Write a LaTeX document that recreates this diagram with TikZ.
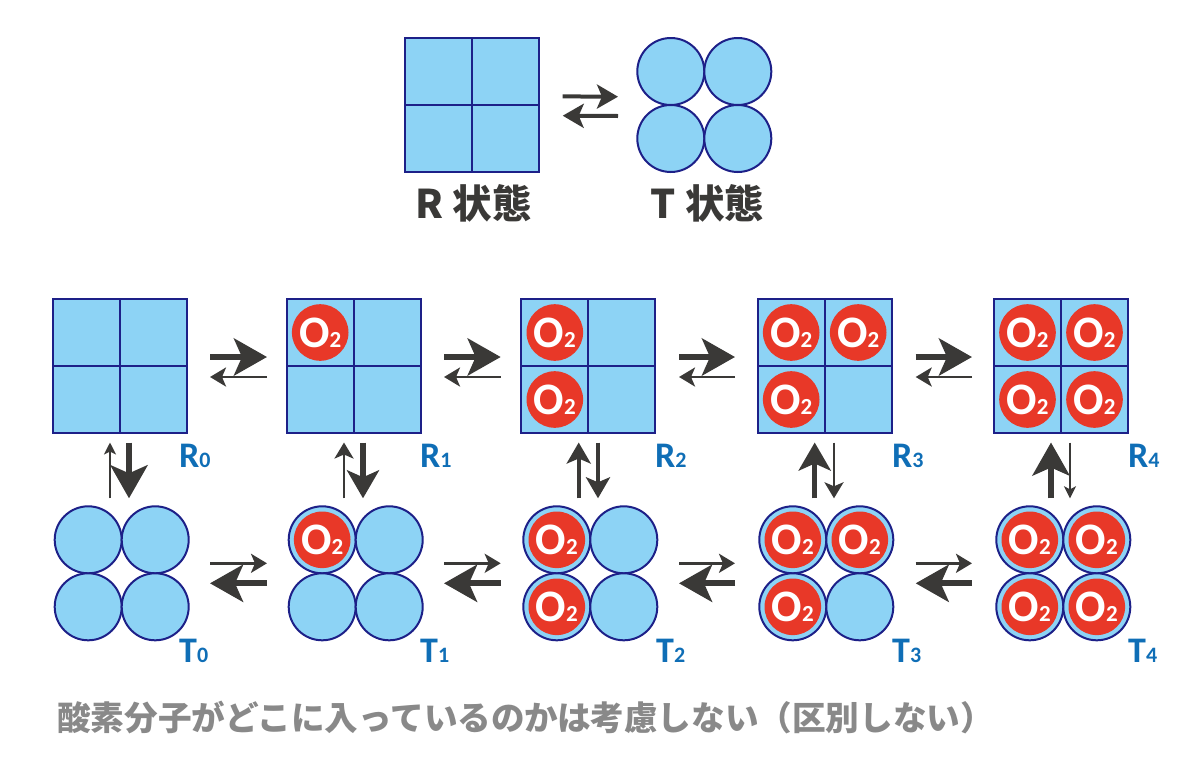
\documentclass[tikz,border=0pt]{standalone}
\usepackage{fontspec}
\setmainfont{Carlito}
\newfontfamily\cjk{Noto Sans CJK JP}
\usetikzlibrary{positioning, arrows.meta}

\definecolor{cellblue}{HTML}{8DD3F5}
\definecolor{edgenavy}{HTML}{1D2088}
\definecolor{oxyred}{HTML}{E83828}
\definecolor{arrowgray}{HTML}{3A3937}
\definecolor{labelblue}{HTML}{0F6EB6}
\definecolor{notegray}{HTML}{898989}

\newcommand{\otwo}{O{\fontsize{23}{23}\selectfont 2}}
\newcommand{\statename}[2]{#1{\fontsize{22}{22}\selectfont #2}}

\tikzset{
    rbox/.style={draw=edgenavy, fill=cellblue, line width=2pt, minimum size=134pt, inner sep=0pt, outer sep=0pt,
        path picture={
            \draw [edgenavy, line width=2pt] (path picture bounding box.north) -- (path picture bounding box.south);
            \draw [edgenavy, line width=2pt] (path picture bounding box.west) -- (path picture bounding box.east);
        }},
    tbox/.style={minimum size=134pt, inner sep=0pt, outer sep=0pt},
    lobe/.style={draw=edgenavy, fill=cellblue, line width=2pt, circle, minimum size=67pt, inner sep=0pt, outer sep=0pt},
    oxy/.style={fill=oxyred, circle, minimum size=56.6pt, inner sep=0pt, text=white, font=\fontsize{45}{45}\selectfont\bfseries},
    statelabel/.style={anchor=base west, inner sep=0pt, text=labelblue, font=\fontsize{36}{36}\selectfont\bfseries},
    hair/.style={arrowgray, line width=2pt, -{Stealth[length=12pt, width=12pt, inset=3pt]}},
    slim/.style={arrowgray, line width=2.8pt, -{Stealth[length=16pt, width=19pt, inset=4pt]}},
    mid/.style={arrowgray, line width=4pt, -{Stealth[length=21pt, width=24pt, inset=5pt]}},
    stout/.style={arrowgray, line width=5.5pt, -{Stealth[length=28pt, width=32pt, inset=7pt]}},
    fat/.style={arrowgray, line width=6pt, -{Stealth[length=33pt, width=37pt, inset=8pt]}},
}

\newcommand{\rstate}[2]{
    \node (#1) [rbox] at #2 {};
    \coordinate (#1a) at ([shift={(-33.5,-33.5)}]#1.center);
    \coordinate (#1b) at ([shift={(33.5,-33.5)}]#1.center);
    \coordinate (#1c) at ([shift={(-33.5,33.5)}]#1.center);
    \coordinate (#1d) at ([shift={(33.5,33.5)}]#1.center);
}
\newcommand{\tstate}[2]{
    \node (#1) [tbox] at #2 {};
    \node (#1a) [lobe] at ([shift={(-33.5,-33.5)}]#1.center) {};
    \node (#1b) [lobe] at ([shift={(33.5,-33.5)}]#1.center) {};
    \node (#1c) [lobe] at ([shift={(-33.5,33.5)}]#1.center) {};
    \node (#1d) [lobe] at ([shift={(33.5,33.5)}]#1.center) {};
}

\begin{document}
\begin{tikzpicture}[x=1pt, y=-1pt]
    \useasboundingbox (0,0) rectangle (1200,766);

    \rstate{rtop}{(472,104.7)}
    \tstate{ttop}{(704.3,105)}
    \node (rname) [inner sep=0pt, font=\cjk\fontsize{39.5}{39.5}\selectfont\bfseries, text=arrowgray, anchor=base] at (473.5,218) {R 状態};
    \node (tname) [inner sep=0pt, font=\cjk\fontsize{39.5}{39.5}\selectfont\bfseries, text=arrowgray, anchor=base] at (707.5,218) {T 状態};
    \draw [mid] ([shift={(23.7,-8.3)}]rtop.east) -- ([shift={(-19.3,-8.3)}]ttop.west);
    \draw [mid] ([shift={(-19.3,11)}]ttop.west) -- ([shift={(23.7,11)}]rtop.east);

    \rstate{r0}{(120,366)}
    \rstate{r1}{(353.7,366)}
    \rstate{r2}{(588.3,366)}
    \rstate{r3}{(824.7,366)}
    \rstate{r4}{(1061,366)}
    \tstate{t0}{(121.7,573.3)}
    \tstate{t1}{(355.7,573.3)}
    \tstate{t2}{(590.3,573.3)}
    \tstate{t3}{(826.3,573.3)}
    \tstate{t4}{(1063.3,573.3)}

    \node (r1ao) [oxy] at (r1a) {\otwo};
    \node (r2ao) [oxy] at (r2a) {\otwo};
    \node (r2co) [oxy] at (r2c) {\otwo};
    \node (r3ao) [oxy] at (r3a) {\otwo};
    \node (r3bo) [oxy] at (r3b) {\otwo};
    \node (r3co) [oxy] at (r3c) {\otwo};
    \node (r4ao) [oxy] at (r4a) {\otwo};
    \node (r4bo) [oxy] at (r4b) {\otwo};
    \node (r4co) [oxy] at (r4c) {\otwo};
    \node (r4do) [oxy] at (r4d) {\otwo};
    \node (t1ao) [oxy] at (t1a) {\otwo};
    \node (t2ao) [oxy] at (t2a) {\otwo};
    \node (t2co) [oxy] at (t2c) {\otwo};
    \node (t3ao) [oxy] at (t3a) {\otwo};
    \node (t3bo) [oxy] at (t3b) {\otwo};
    \node (t3co) [oxy] at (t3c) {\otwo};
    \node (t4ao) [oxy] at (t4a) {\otwo};
    \node (t4bo) [oxy] at (t4b) {\otwo};
    \node (t4co) [oxy] at (t4c) {\otwo};
    \node (t4do) [oxy] at (t4d) {\otwo};

    \node (r0name) [statelabel] at (179,467) {\statename{R}{0}};
    \node (r1name) [statelabel] at (420,467) {\statename{R}{1}};
    \node (r2name) [statelabel] at (655,467) {\statename{R}{2}};
    \node (r3name) [statelabel] at (892,467) {\statename{R}{3}};
    \node (r4name) [statelabel] at (1128,467) {\statename{R}{4}};
    \node (t0name) [statelabel] at (179,662) {\statename{T}{0}};
    \node (t1name) [statelabel] at (420,662) {\statename{T}{1}};
    \node (t2name) [statelabel] at (656,662) {\statename{T}{2}};
    \node (t3name) [statelabel] at (892,662) {\statename{T}{3}};
    \node (t4name) [statelabel] at (1128,662) {\statename{T}{4}};

    \draw [fat] ([shift={(23,-9)}]r0.east) -- ([shift={(-19.7,-9)}]r1.west);
    \draw [slim] ([shift={(-19.7,11)}]r1.west) -- ([shift={(23,11)}]r0.east);
    \draw [fat] ([shift={(23.3,-9)}]r1.east) -- ([shift={(-20.6,-9)}]r2.west);
    \draw [slim] ([shift={(-20.6,11)}]r2.west) -- ([shift={(23.3,11)}]r1.east);
    \draw [fat] ([shift={(23.7,-9)}]r2.east) -- ([shift={(-22.7,-9)}]r3.west);
    \draw [slim] ([shift={(-22.7,11)}]r3.west) -- ([shift={(23.7,11)}]r2.east);
    \draw [fat] ([shift={(24,-9)}]r3.east) -- ([shift={(-22,-9)}]r4.west);
    \draw [slim] ([shift={(-22,11)}]r4.west) -- ([shift={(24,11)}]r3.east);

    \draw [slim] ([shift={(21.3,-10)}]t0.east) -- ([shift={(-21.7,-10)}]t1.west);
    \draw [fat] ([shift={(-21.7,10)}]t1.west) -- ([shift={(21.3,10)}]t0.east);
    \draw [slim] ([shift={(21.3,-10)}]t1.east) -- ([shift={(-22.6,-10)}]t2.west);
    \draw [fat] ([shift={(-22.6,10)}]t2.west) -- ([shift={(21.3,10)}]t1.east);
    \draw [slim] ([shift={(21.7,-10)}]t2.east) -- ([shift={(-24.3,-10)}]t3.west);
    \draw [fat] ([shift={(-24.3,10)}]t3.west) -- ([shift={(21.7,10)}]t2.east);
    \draw [slim] ([shift={(22.4,-10)}]t3.east) -- ([shift={(-24.3,-10)}]t4.west);
    \draw [fat] ([shift={(-24.3,10)}]t4.west) -- ([shift={(22.4,10)}]t3.east);

    \draw [hair] ([shift={(-11.7,-8)}]t0.north) -- ([shift={(-10,9.5)}]r0.south);
    \draw [fat] ([shift={(9,9.5)}]r0.south) -- ([shift={(7.3,-8)}]t0.north);
    \draw [slim] ([shift={(-11.7,-8)}]t1.north) -- ([shift={(-9.7,9.5)}]r1.south);
    \draw [stout] ([shift={(9.3,9.5)}]r1.south) -- ([shift={(7.3,-8)}]t1.north);
    \draw [mid] ([shift={(-11.6,-8)}]t2.north) -- ([shift={(-9.6,9.5)}]r2.south);
    \draw [mid] ([shift={(9.7,9.5)}]r2.south) -- ([shift={(7.7,-8)}]t2.north);
    \draw [stout] ([shift={(-11.6,-8)}]t3.north) -- ([shift={(-10,9.5)}]r3.south);
    \draw [slim] ([shift={(9.3,9.5)}]r3.south) -- ([shift={(7.7,-8)}]t3.north);
    \draw [fat] ([shift={(-12.3,-8)}]t4.north) -- ([shift={(-10,9.5)}]r4.south);
    \draw [hair] ([shift={(9,9.5)}]r4.south) -- ([shift={(6.7,-8)}]t4.north);

    \node (note) [anchor=base west, inner sep=0pt, font=\cjk\fontsize{33.6}{33.6}\selectfont\bfseries, text=notegray] at (57,730) {酸素分子がどこに入っているのかは考慮しない（区別しない）};
\end{tikzpicture}
\end{document}
